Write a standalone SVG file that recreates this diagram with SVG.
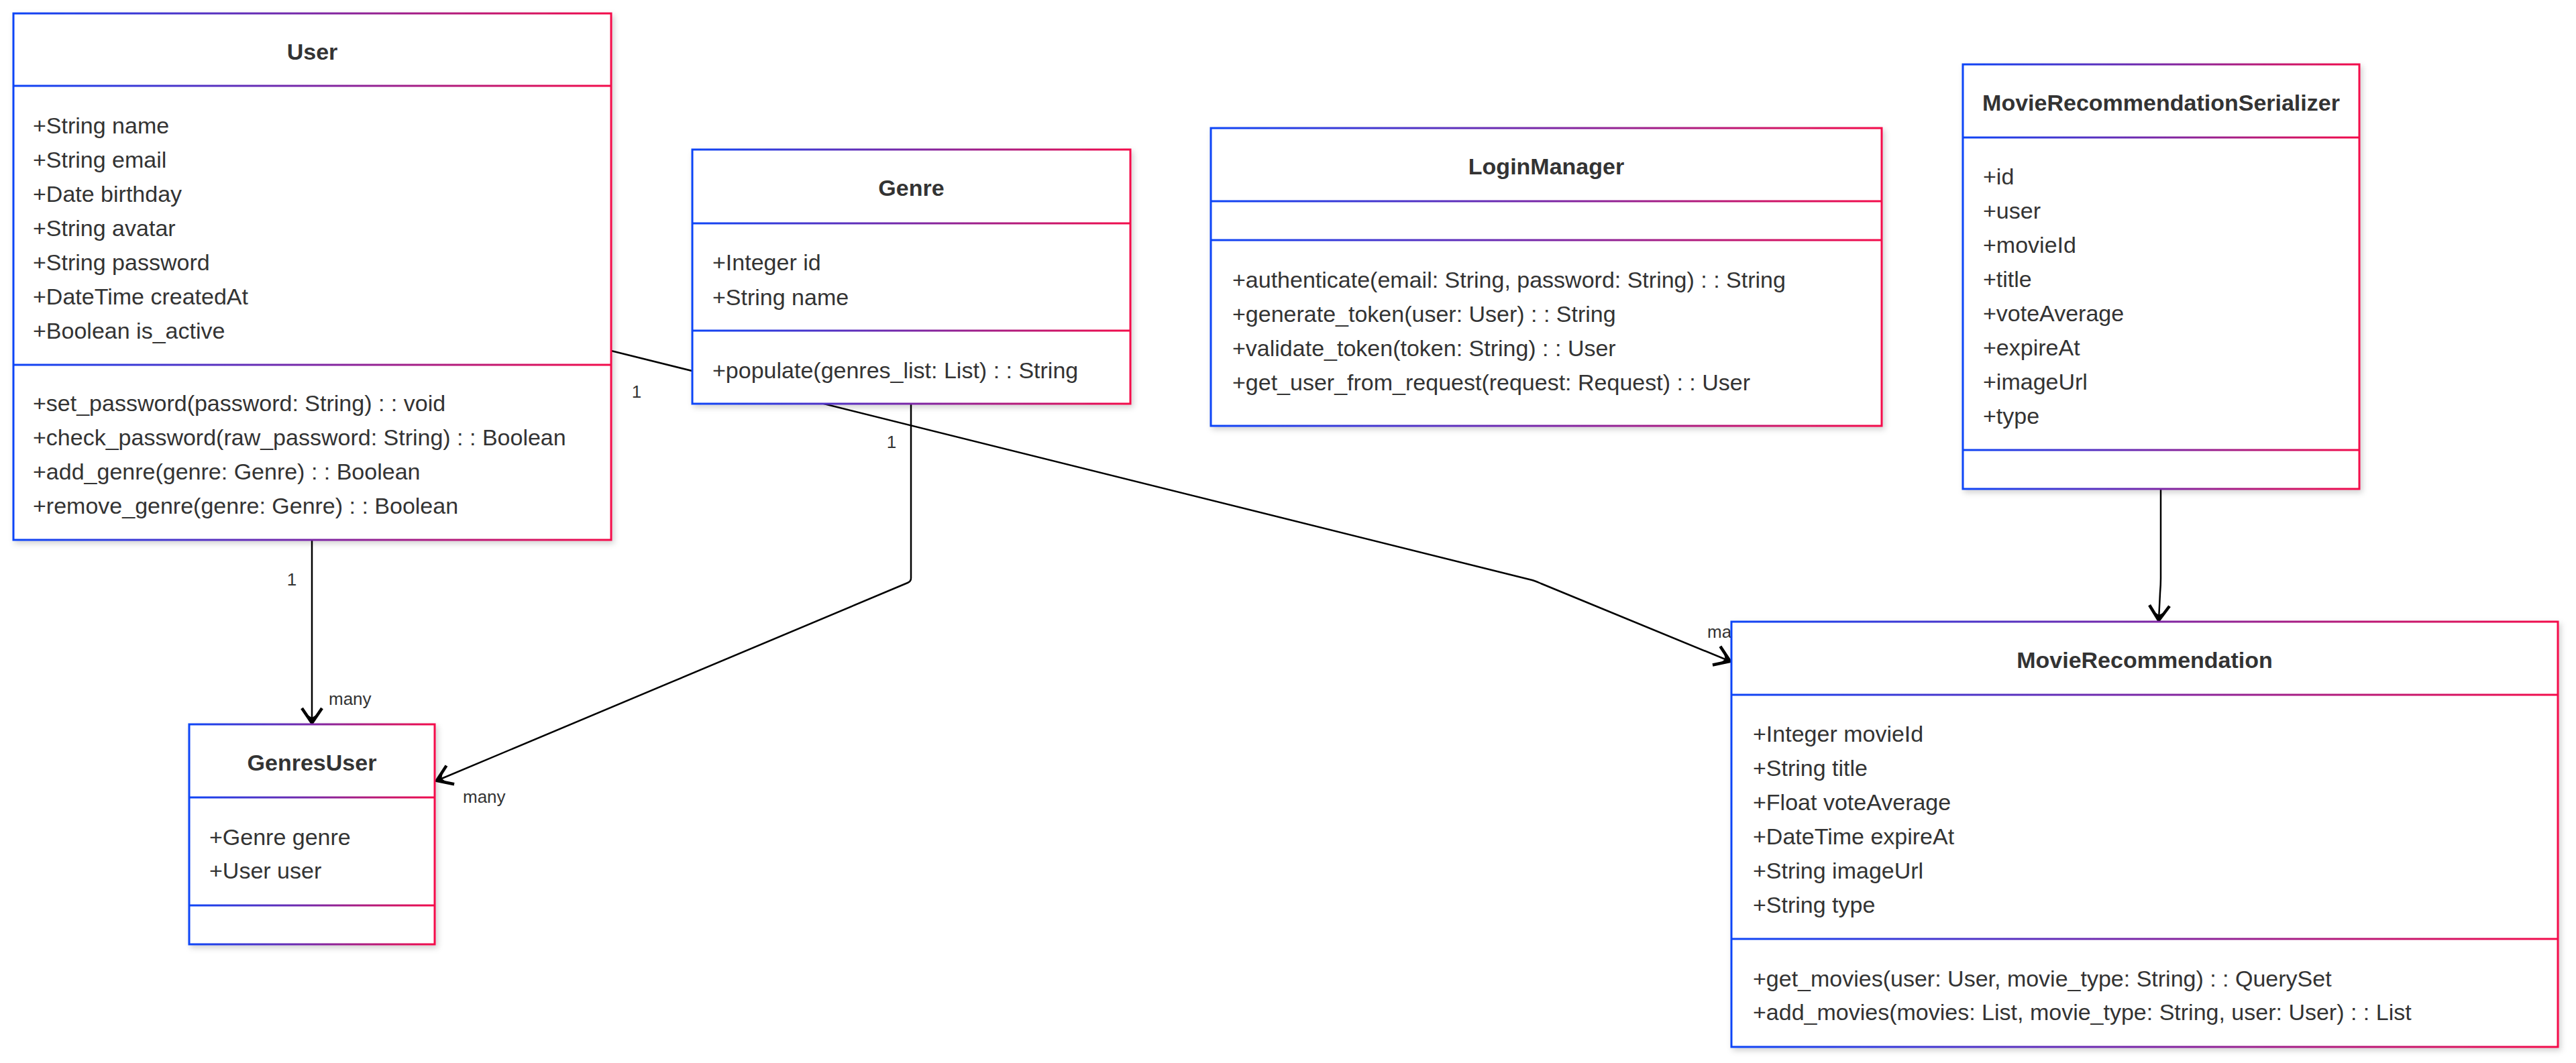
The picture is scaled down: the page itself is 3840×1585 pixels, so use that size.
<svg xmlns="http://www.w3.org/2000/svg" width="3840" height="1585" viewBox="0 0 3840 1585">
<style>
.box{fill:#ffffff;stroke:url(#grad);stroke-width:3;filter:url(#shadow);}
.div{fill:url(#grad);}
.title{font-family:"Liberation Sans",Arial,sans-serif;font-size:34px;font-weight:bold;fill:#333333;text-anchor:middle;}
.member{font-family:"Liberation Sans",Arial,sans-serif;font-size:34px;fill:#333333;}
.lbl{font-family:"Liberation Sans",Arial,sans-serif;font-size:26px;fill:#333333;}
.edge{fill:none;stroke:#000000;stroke-width:2.5;}
</style>
<defs>
<linearGradient id="grad" x1="0" y1="0" x2="1" y2="0">
<stop offset="0" stop-color="#0d45f7"/>
<stop offset="0.5" stop-color="#7a27a6"/>
<stop offset="1" stop-color="#f40c4a"/>
</linearGradient>
<filter id="shadow" x="-5%" y="-5%" width="112%" height="112%">
<feDropShadow dx="3" dy="4" stdDeviation="4" flood-color="#000000" flood-opacity="0.18"/>
</filter>
<marker id="arr" viewBox="-28 -20 32 40" refX="0" refY="0" markerWidth="32" markerHeight="40" markerUnits="userSpaceOnUse" orient="auto">
<path d="M-22,-15 L0,0 L-22,15" fill="none" stroke="#000000" stroke-width="4.5" stroke-linejoin="miter"/>
<path d="M1,0 L-13,-8 L-8,0 L-13,8 Z" fill="#000000"/>
</marker>
</defs>
<rect x="0" y="0" width="3840" height="1585" fill="#ffffff"/>

<g id="connectors">
<path class="edge" d="M465,806 L465,1078" marker-end="url(#arr)"/>
<path class="edge" d="M1358,603 L1358,862 Q1358,867 1353,869 L651,1164" marker-end="url(#arr)"/>
<path class="edge" d="M911,523 L2284,865 Q2291,867 2297,870 L2579,986" marker-end="url(#arr)"/>
<path class="edge" d="M3221,729 L3221,862 Q3221,872 3220,884 L3218,925" marker-end="url(#arr)"/>
<text class="lbl" x="435" y="873" text-anchor="middle">1</text>
<text class="lbl" x="490" y="1051">many</text>
<text class="lbl" x="1329" y="668" text-anchor="middle">1</text>
<text class="lbl" x="690" y="1197">many</text>
<text class="lbl" x="949" y="593" text-anchor="middle">1</text>
<text class="lbl" x="2545" y="951">many</text>
</g>

<g id="node-User">
<rect class="box" x="20" y="20" width="891" height="785"/>
<rect class="div" x="20" y="126.5" width="891" height="3"/>
<rect class="div" x="20" y="542.5" width="891" height="3"/>
<text class="title" x="465.5" y="89">User</text>
<text class="member" x="49" y="199">+String name</text>
<text class="member" x="49" y="250">+String email</text>
<text class="member" x="49" y="301">+Date birthday</text>
<text class="member" x="49" y="352">+String avatar</text>
<text class="member" x="49" y="403">+String password</text>
<text class="member" x="49" y="454">+DateTime createdAt</text>
<text class="member" x="49" y="505">+Boolean is_active</text>
<text class="member" x="49" y="613">+set_password(password: String) : : void</text>
<text class="member" x="49" y="664">+check_password(raw_password: String) : : Boolean</text>
<text class="member" x="49" y="715">+add_genre(genre: Genre) : : Boolean</text>
<text class="member" x="49" y="766">+remove_genre(genre: Genre) : : Boolean</text>
</g>

<g id="node-Genre">
<rect class="box" x="1032" y="223" width="653" height="379"/>
<rect class="div" x="1032" y="331.5" width="653" height="3"/>
<rect class="div" x="1032" y="491.5" width="653" height="3"/>
<text class="title" x="1358.5" y="292">Genre</text>
<text class="member" x="1062" y="403">+Integer id</text>
<text class="member" x="1062" y="455">+String name</text>
<text class="member" x="1062" y="564">+populate(genres_list: List) : : String</text>
</g>

<g id="node-LoginManager">
<rect class="box" x="1805" y="191" width="1000" height="444"/>
<rect class="div" x="1805" y="298.5" width="1000" height="3"/>
<rect class="div" x="1805" y="356.5" width="1000" height="3"/>
<text class="title" x="2305" y="260">LoginManager</text>
<text class="member" x="1837" y="429">+authenticate(email: String, password: String) : : String</text>
<text class="member" x="1837" y="480">+generate_token(user: User) : : String</text>
<text class="member" x="1837" y="531">+validate_token(token: String) : : User</text>
<text class="member" x="1837" y="582">+get_user_from_request(request: Request) : : User</text>
</g>

<g id="node-MovieRecommendationSerializer">
<rect class="box" x="2926" y="96" width="591" height="633"/>
<rect class="div" x="2926" y="203.5" width="591" height="3"/>
<rect class="div" x="2926" y="669.5" width="591" height="3"/>
<text class="title" x="3221.5" y="165">MovieRecommendationSerializer</text>
<text class="member" x="2956" y="275">+id</text>
<text class="member" x="2956" y="326">+user</text>
<text class="member" x="2956" y="377">+movieId</text>
<text class="member" x="2956" y="428">+title</text>
<text class="member" x="2956" y="479">+voteAverage</text>
<text class="member" x="2956" y="530">+expireAt</text>
<text class="member" x="2956" y="581">+imageUrl</text>
<text class="member" x="2956" y="632">+type</text>
</g>

<g id="node-MovieRecommendation">
<rect class="box" x="2581" y="927" width="1232" height="634"/>
<rect class="div" x="2581" y="1034.5" width="1232" height="3"/>
<rect class="div" x="2581" y="1398.5" width="1232" height="3"/>
<text class="title" x="3197" y="996">MovieRecommendation</text>
<text class="member" x="2613" y="1106">+Integer movieId</text>
<text class="member" x="2613" y="1157">+String title</text>
<text class="member" x="2613" y="1208">+Float voteAverage</text>
<text class="member" x="2613" y="1259">+DateTime expireAt</text>
<text class="member" x="2613" y="1310">+String imageUrl</text>
<text class="member" x="2613" y="1361">+String type</text>
<text class="member" x="2613" y="1471">+get_movies(user: User, movie_type: String) : : QuerySet</text>
<text class="member" x="2613" y="1521">+add_movies(movies: List, movie_type: String, user: User) : : List</text>
</g>

<g id="node-GenresUser">
<rect class="box" x="282" y="1080" width="366" height="328"/>
<rect class="div" x="282" y="1187.5" width="366" height="3"/>
<rect class="div" x="282" y="1348.5" width="366" height="3"/>
<text class="title" x="465" y="1149">GenresUser</text>
<text class="member" x="312" y="1260">+Genre genre</text>
<text class="member" x="312" y="1310">+User user</text>
</g>
</svg>
